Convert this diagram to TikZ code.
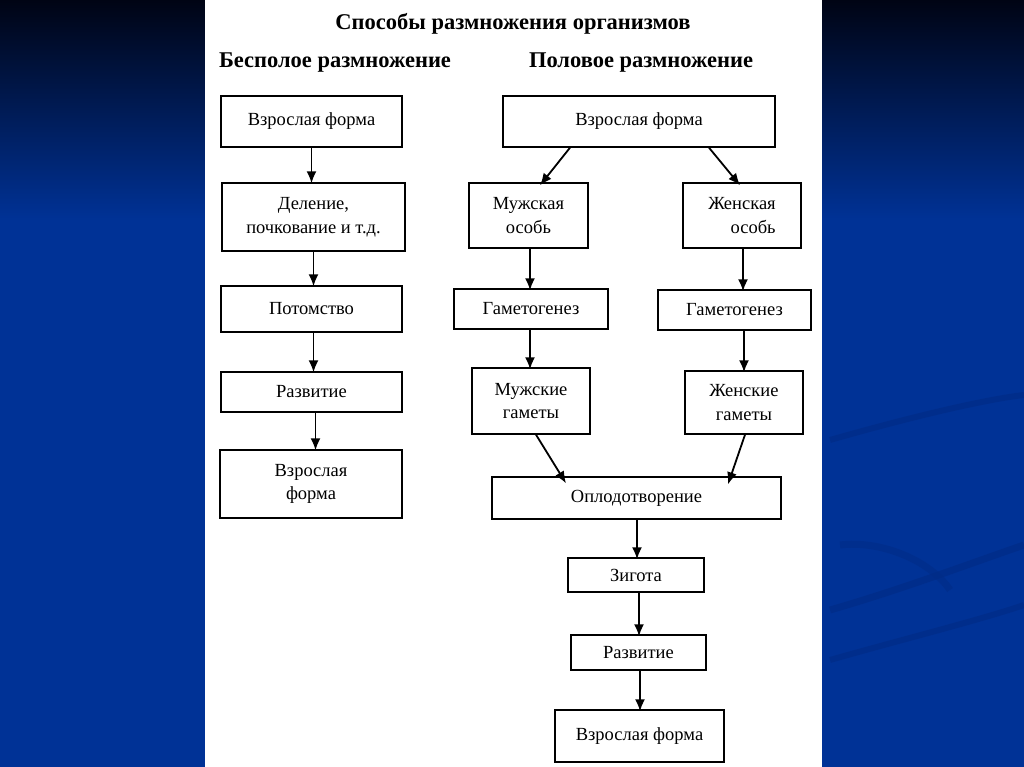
\documentclass[tikz,border=0pt]{standalone}
\usepackage{fontspec}
\setmainfont{Liberation Serif}
\usetikzlibrary{arrows.meta,calc}
\definecolor{bgtop}{RGB}{0,4,20}
\definecolor{bgblue}{RGB}{0,50,150}
\definecolor{swoosh}{RGB}{0,44,135}
\begin{document}
\begin{tikzpicture}[x=1pt,y=-1pt,
  box/.style={draw,line width=1.4pt,inner sep=2pt,align=center,font=\fontsize{18.5}{23.5}\selectfont},
  arr/.style={line width=1.8pt,-{Latex[length=12pt,width=10pt]}},
  head/.style={font=\bfseries\fontsize{22.5}{26}\selectfont}]
\useasboundingbox (0,0) rectangle (1024,767);
% background
\fill[bgblue] (0,0) rectangle (1024,767);
\shade[top color=bgtop,bottom color=bgblue] (0,0) rectangle (1024,220);
\draw[swoosh,line width=6pt,opacity=0.7] (830,440) .. controls (900,420) and (980,400) .. (1024,395);
\draw[swoosh,line width=7pt,opacity=0.7] (830,610) .. controls (900,590) and (980,560) .. (1024,545);
\draw[swoosh,line width=6pt,opacity=0.7] (830,660) .. controls (900,640) and (980,620) .. (1024,605);
\draw[swoosh,line width=7pt,opacity=0.6] (840,545) .. controls (880,540) and (930,560) .. (950,590);
\fill[white] (205,0) rectangle (822,767);
% titles
\node[head] (title) at (513,24) {Способы размножения организмов};
\node[head] (hleft) at (335,63) {Бесполое размножение};
\node[head] (hright) at (641,63) {Половое размножение};
% left column
\node[box,minimum width=181pt,minimum height=51pt] (L1) at (311.5,121.5) {Взрослая форма};
\node[box,minimum width=183pt,minimum height=68pt] (L2) at (313.5,217) {Деление,\\почкование и т.д.};
\node[box,minimum width=181pt,minimum height=46pt] (L3) at (311.5,309) {Потомство};
\node[box,minimum width=181pt,minimum height=40pt] (L4) at (311.5,392) {Развитие};
\node[box,minimum width=182pt,minimum height=68pt] (L5) at (311,484) {Взрослая\\форма};
\draw[arr] (L1.south) -- ([yshift=-1pt]L1.south |- L2.north);
\draw[arr] (L2.south) -- ([yshift=-1pt]L2.south |- L3.north);
\draw[arr] ([xshift=2pt]L3.south) -- ([xshift=2pt,yshift=-1pt]L3.south |- L4.north);
\draw[arr] ([xshift=4pt]L4.south) -- ([xshift=4pt,yshift=-1pt]L4.south |- L5.north);
% right column
\node[box,minimum width=272pt,minimum height=51pt] (R1) at (639,121.5) {Взрослая форма};
\node[box,minimum width=119pt,minimum height=65pt] (M1) at (528.5,215.5) {Мужская\\особь};
\node[box,minimum width=118pt,minimum height=65pt] (F1) at (742,215.5) {Женская\\\hspace*{1.2em}особь};
\node[box,minimum width=154pt,minimum height=40pt] (M2) at (531,309) {Гаметогенез};
\node[box,minimum width=153pt,minimum height=40pt] (F2) at (734.5,310) {Гаметогенез};
\node[box,minimum width=118pt,minimum height=66pt] (M3) at (531,401) {Мужские\\гаметы};
\node[box,minimum width=118pt,minimum height=63pt] (F3) at (744,402.5) {Женские\\гаметы};
\node[box,minimum width=289pt,minimum height=42pt] (O) at (636.5,498) {Оплодотворение};
\node[box,minimum width=136pt,minimum height=34pt] (Z) at (636,575) {Зигота};
\node[box,minimum width=135pt,minimum height=35pt] (RV) at (638.5,652.5) {Развитие};
\node[box,minimum width=169pt,minimum height=52pt] (VF) at (639.5,736) {Взрослая форма};
\draw[arr] ([xshift=-69pt]R1.south) -- ([xshift=11.5pt,yshift=-3pt]M1.north);
\draw[arr] ([xshift=70pt]R1.south) -- ([xshift=-2pt,yshift=-3pt]F1.north);
\draw[arr] ([xshift=1.5pt]M1.south) -- ([xshift=1.5pt,yshift=-2pt]M1.south |- M2.north);
\draw[arr] ([xshift=1pt]F1.south) -- ([xshift=1pt,yshift=-2pt]F1.south |- F2.north);
\draw[arr] ([xshift=-1pt]M2.south) -- ([xshift=-1pt,yshift=-2pt]M2.south |- M3.north);
\draw[arr] ([xshift=9.5pt]F2.south) -- ([xshift=9.5pt,yshift=-2pt]F2.south |- F3.north);
\draw[arr] ([xshift=5pt]M3.south) -- ([xshift=-70.5pt,yshift=-7pt]O.north);
\draw[arr] ([xshift=1pt]F3.south) -- ([xshift=91.5pt,yshift=-8pt]O.north);
\draw[arr] ([xshift=0.5pt]O.south) -- ([xshift=0.5pt,yshift=-2pt]O.south |- Z.north);
\draw[arr] ([xshift=3pt]Z.south) -- ([xshift=3pt,yshift=-2pt]Z.south |- RV.north);
\draw[arr] ([xshift=1.5pt]RV.south) -- ([xshift=1.5pt,yshift=-2pt]RV.south |- VF.north);
\end{tikzpicture}
\end{document}
